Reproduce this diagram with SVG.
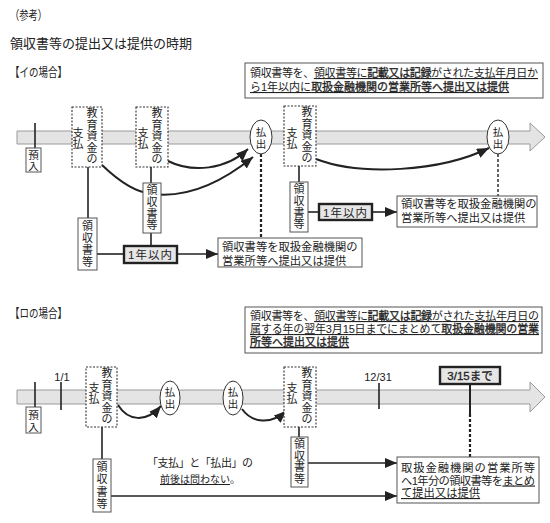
<svg xmlns="http://www.w3.org/2000/svg" width="550" height="523" viewBox="0 0 550 523">
<defs>
<style>
text{font-family:"Liberation Sans","Noto Sans CJK JP",sans-serif;fill:#222}
.s11{font-size:11px}
.v{font-size:11px;text-anchor:middle}
.v10{font-size:10.5px;text-anchor:middle}
.b{stroke:#222;stroke-width:0.3}
.u{text-decoration:underline}
.band{fill:#e4e4e4;stroke:#9a9a9a;stroke-width:1}
.box{fill:#fff;stroke:#555;stroke-width:1}
.dbox{fill:#fff;stroke:#333;stroke-width:1.1;stroke-dasharray:2 1.5}
.tbox{fill:#e6e6e6;stroke:#222;stroke-width:2.4}
.ln{stroke:#222;stroke-width:1.6;fill:none}
.cv{stroke:#222;stroke-width:2;fill:none}
.dash2{stroke:#222;stroke-width:2.2;stroke-dasharray:3 2;fill:none}
.dash1{stroke:#222;stroke-width:1.4;stroke-dasharray:3 2;fill:none}
.ov{fill:#fff;stroke:#333;stroke-width:1}
.hd{font-size:12.5px}
</style>
<marker id="ah" markerUnits="userSpaceOnUse" markerWidth="13" markerHeight="10" refX="12" refY="5" orient="auto">
<path d="M0,0 L12,5 L0,10 z" fill="#222"/>
</marker>
</defs>
<rect width="550" height="523" fill="#fff"/>

<g id="header">
<text x="10" y="20" class="hd" textLength="37" lengthAdjust="spacingAndGlyphs">（参考）</text>
<text x="10" y="48" font-size="13">領収書等の提出又は提供の時期</text>
<text x="10" y="77" class="hd" textLength="57" lengthAdjust="spacingAndGlyphs">【イの場合】</text>
<text x="10" y="318" class="hd" textLength="57" lengthAdjust="spacingAndGlyphs">【ロの場合】</text>
</g>

<g id="timeline-i">
<path class="band" d="M17,131 H530 V123 L545,137 L530,151 V144 H17 Z"/>
</g>

<g id="timeline-ro">
<path class="band" d="M17,390 H530 V382 L545,397 L530,412 V404 H17 Z"/>
<text x="62" y="381" font-size="11" text-anchor="middle">1/1</text>
<text x="378" y="381" font-size="11" text-anchor="middle">12/31</text>
</g>

<g id="connectors">
<line class="ln" x1="35" y1="123" x2="35" y2="148"/>
<line class="ln" x1="88" y1="167" x2="88" y2="218"/>
<line class="ln" x1="151" y1="167" x2="151" y2="246"/>
<line class="ln" x1="299" y1="166" x2="299" y2="182"/>
<line class="ln" x1="97" y1="254" x2="124" y2="254"/>
<line class="ln" x1="177" y1="254" x2="218" y2="254" marker-end="url(#ah)"/>
<line class="ln" x1="308" y1="212" x2="319" y2="212"/>
<line class="ln" x1="372" y1="212" x2="397" y2="212" marker-end="url(#ah)"/>
<path class="cv" d="M168,161 C192,173 226,170 248,149" marker-end="url(#ah)"/>
<path class="cv" d="M102,165 Q130,192 152,194 Q200,200 253,157" marker-end="url(#ah)"/>
<path class="cv" d="M316,159 C360,176 440,172 489,148" marker-end="url(#ah)"/>
<line class="dash2" x1="261" y1="154" x2="261" y2="238"/>
<line class="dash1" x1="498" y1="154" x2="498" y2="196"/>
<line class="ln" x1="35" y1="382" x2="35" y2="407"/>
<line class="ln" x1="61" y1="382" x2="61" y2="410"/>
<line class="ln" x1="379" y1="383" x2="379" y2="409"/>
<line class="ln" x1="102" y1="427" x2="102" y2="459"/>
<line class="ln" x1="299" y1="427" x2="299" y2="437"/>
<line class="ln" x1="111" y1="496" x2="397" y2="496" marker-end="url(#ah)"/>
<line class="ln" x1="308" y1="463" x2="397" y2="463" marker-end="url(#ah)"/>
<line stroke="#222" stroke-width="2" x1="470" y1="384" x2="470" y2="414"/>
<line class="dash2" x1="470" y1="414" x2="470" y2="457"/>
<path class="cv" d="M118,405 C128,421 146,423 161,406" marker-end="url(#ah)"/>
<path class="cv" d="M242,409 C252,423 271,425 286,411" marker-end="url(#ah)"/>
</g>

<g id="note-i">
<rect class="box" x="245" y="63" width="298" height="35"/>
<text x="250" y="77" class="s11" textLength="288">領収書等を、<tspan class="u">領収書等に<tspan class="b">記載又は記録</tspan>がされた支払年月日か</tspan></text>
<text x="250" y="91" class="s11"><tspan class="u">ら1年以内に<tspan class="b">取扱金融機関の営業所等へ提出又は提供</tspan></tspan></text>
</g>

<g id="deposit-i">
<rect class="box" x="26" y="148" width="15" height="24"/>
<text class="v10"><tspan x="33.5" y="159">預</tspan><tspan x="33.5" y="170">入</tspan></text>
</g>

<g id="pay-i1">
<rect class="dbox" x="72" y="107" width="30" height="60"/>
<text class="v"><tspan x="92" y="117">教</tspan><tspan x="92" y="128.5">育</tspan><tspan x="92" y="140">資</tspan><tspan x="92" y="151.5">金</tspan><tspan x="92" y="163">の</tspan></text>
<text class="v"><tspan x="78" y="137">支</tspan><tspan x="78" y="148">払</tspan></text>
</g>

<g id="pay-i2">
<rect class="dbox" x="136" y="107" width="32" height="60"/>
<text class="v"><tspan x="157" y="117">教</tspan><tspan x="157" y="128.5">育</tspan><tspan x="157" y="140">資</tspan><tspan x="157" y="151.5">金</tspan><tspan x="157" y="163">の</tspan></text>
<text class="v"><tspan x="143" y="137">支</tspan><tspan x="143" y="148">払</tspan></text>
</g>

<g id="pay-i3">
<rect class="dbox" x="284" y="106" width="32" height="60"/>
<text class="v"><tspan x="307" y="116">教</tspan><tspan x="307" y="127.5">育</tspan><tspan x="307" y="139">資</tspan><tspan x="307" y="150.5">金</tspan><tspan x="307" y="162">の</tspan></text>
<text class="v"><tspan x="292" y="137">支</tspan><tspan x="292" y="148">払</tspan></text>
</g>

<g id="out-i1">
<ellipse class="ov" cx="261" cy="137" rx="11" ry="17"/>
<text class="v10"><tspan x="261" y="135.5">払</tspan><tspan x="261" y="147.5">出</tspan></text>
</g>

<g id="out-i2">
<ellipse class="ov" cx="498" cy="137" rx="11" ry="17"/>
<text class="v10"><tspan x="498" y="135.5">払</tspan><tspan x="498" y="147.5">出</tspan></text>
</g>

<g id="receipt-i1">
<rect class="box" x="78" y="218" width="19" height="52"/>
<text class="v"><tspan x="87.5" y="230">領</tspan><tspan x="87.5" y="242">収</tspan><tspan x="87.5" y="254">書</tspan><tspan x="87.5" y="266">等</tspan></text>
</g>

<g id="receipt-i2">
<rect class="box" x="143" y="183" width="18" height="50"/>
<text class="v"><tspan x="152" y="194">領</tspan><tspan x="152" y="206">収</tspan><tspan x="152" y="217.5">書</tspan><tspan x="152" y="229">等</tspan></text>
</g>

<g id="receipt-i3">
<rect class="box" x="290" y="182" width="18" height="50"/>
<text class="v"><tspan x="299" y="193">領</tspan><tspan x="299" y="205">収</tspan><tspan x="299" y="216.5">書</tspan><tspan x="299" y="228">等</tspan></text>
</g>

<g id="year-i1">
<rect class="tbox" x="124" y="246" width="53" height="17"/>
<text x="150.5" y="259" font-size="11.5" text-anchor="middle" letter-spacing="1">1年以内</text>
</g>

<g id="year-i2">
<rect class="tbox" x="319" y="204" width="53" height="16"/>
<text x="345.5" y="216.5" font-size="11.5" text-anchor="middle" letter-spacing="1">1年以内</text>
</g>

<g id="submit-i1">
<rect class="box" x="218" y="238" width="144" height="29"/>
<text x="222" y="250.5" font-size="11.3">領収書等を取扱金融機関の</text>
<text x="222" y="265" font-size="11.3">営業所等へ提出又は提供</text>
</g>

<g id="submit-i2">
<rect class="box" x="397" y="196" width="140" height="31"/>
<text x="401" y="207.5" font-size="11.3">領収書等を取扱金融機関の</text>
<text x="401" y="222" font-size="11.3">営業所等へ提出又は提供</text>
</g>

<g id="note-ro">
<rect class="box" x="245" y="307" width="297" height="46"/>
<text x="250" y="320" class="s11" textLength="289">領収書等を、<tspan class="u">領収書等に<tspan class="b">記載又は記録</tspan>がされた支払年月日の</tspan></text>
<text x="250" y="333" class="s11" textLength="289"><tspan class="u">属する年の翌年3月15日までにまとめて<tspan class="b">取扱金融機関の営業</tspan></tspan></text>
<text x="250" y="346" class="s11"><tspan class="u b">所等へ提出又は提供</tspan></text>
</g>

<g id="deposit-ro">
<rect class="box" x="26" y="407" width="15" height="26"/>
<text class="v10"><tspan x="33.5" y="419">預</tspan><tspan x="33.5" y="430.5">入</tspan></text>
</g>

<g id="pay-ro1">
<rect class="dbox" x="86" y="367" width="31" height="60"/>
<text class="v"><tspan x="107" y="377">教</tspan><tspan x="107" y="388.5">育</tspan><tspan x="107" y="400">資</tspan><tspan x="107" y="411.5">金</tspan><tspan x="107" y="423">の</tspan></text>
<text class="v"><tspan x="94" y="392">支</tspan><tspan x="94" y="403">払</tspan></text>
</g>

<g id="pay-ro2">
<rect class="dbox" x="284" y="367" width="32" height="60"/>
<text class="v"><tspan x="307" y="377">教</tspan><tspan x="307" y="388.5">育</tspan><tspan x="307" y="400">資</tspan><tspan x="307" y="411.5">金</tspan><tspan x="307" y="423">の</tspan></text>
<text class="v"><tspan x="292" y="392">支</tspan><tspan x="292" y="403">払</tspan></text>
</g>

<g id="out-ro1">
<ellipse class="ov" cx="170" cy="398" rx="10" ry="17"/>
<text class="v10"><tspan x="170" y="396">払</tspan><tspan x="170" y="408">出</tspan></text>
</g>

<g id="out-ro2">
<ellipse class="ov" cx="233" cy="398" rx="10" ry="17"/>
<text class="v10"><tspan x="233" y="396">払</tspan><tspan x="233" y="408">出</tspan></text>
</g>

<g id="deadline-ro">
<rect class="tbox" x="440" y="367" width="60" height="17"/>
<text x="470" y="380" font-size="11.5" text-anchor="middle" class="b">3/15まで</text>
</g>

<g id="receipt-ro1">
<rect class="box" x="93" y="459" width="18" height="53"/>
<text class="v"><tspan x="102" y="471">領</tspan><tspan x="102" y="483">収</tspan><tspan x="102" y="495.5">書</tspan><tspan x="102" y="507.5">等</tspan></text>
</g>

<g id="receipt-ro2">
<rect class="box" x="291" y="437" width="17" height="50"/>
<text class="v"><tspan x="299.5" y="448">領</tspan><tspan x="299.5" y="459.5">収</tspan><tspan x="299.5" y="471">書</tspan><tspan x="299.5" y="483">等</tspan></text>
</g>

<g id="note-order">
<text x="200" y="467" font-size="11" text-anchor="middle" textLength="106">「支払」と「払出」の</text>
<text x="160" y="483" font-size="10"><tspan class="u">前後は問わない</tspan>。</text>
</g>

<g id="submit-ro">
<rect class="box" x="397" y="457" width="142" height="46"/>
<text x="401" y="472" font-size="11.3" textLength="134">取扱金融機関の営業所等</text>
<text x="401" y="484.5" font-size="11.3" textLength="134">へ1年分の領収書等を<tspan class="u">まとめ</tspan></text>
<text x="401" y="497" font-size="11.3"><tspan class="u">て提出又は提供</tspan></text>
</g>
</svg>
